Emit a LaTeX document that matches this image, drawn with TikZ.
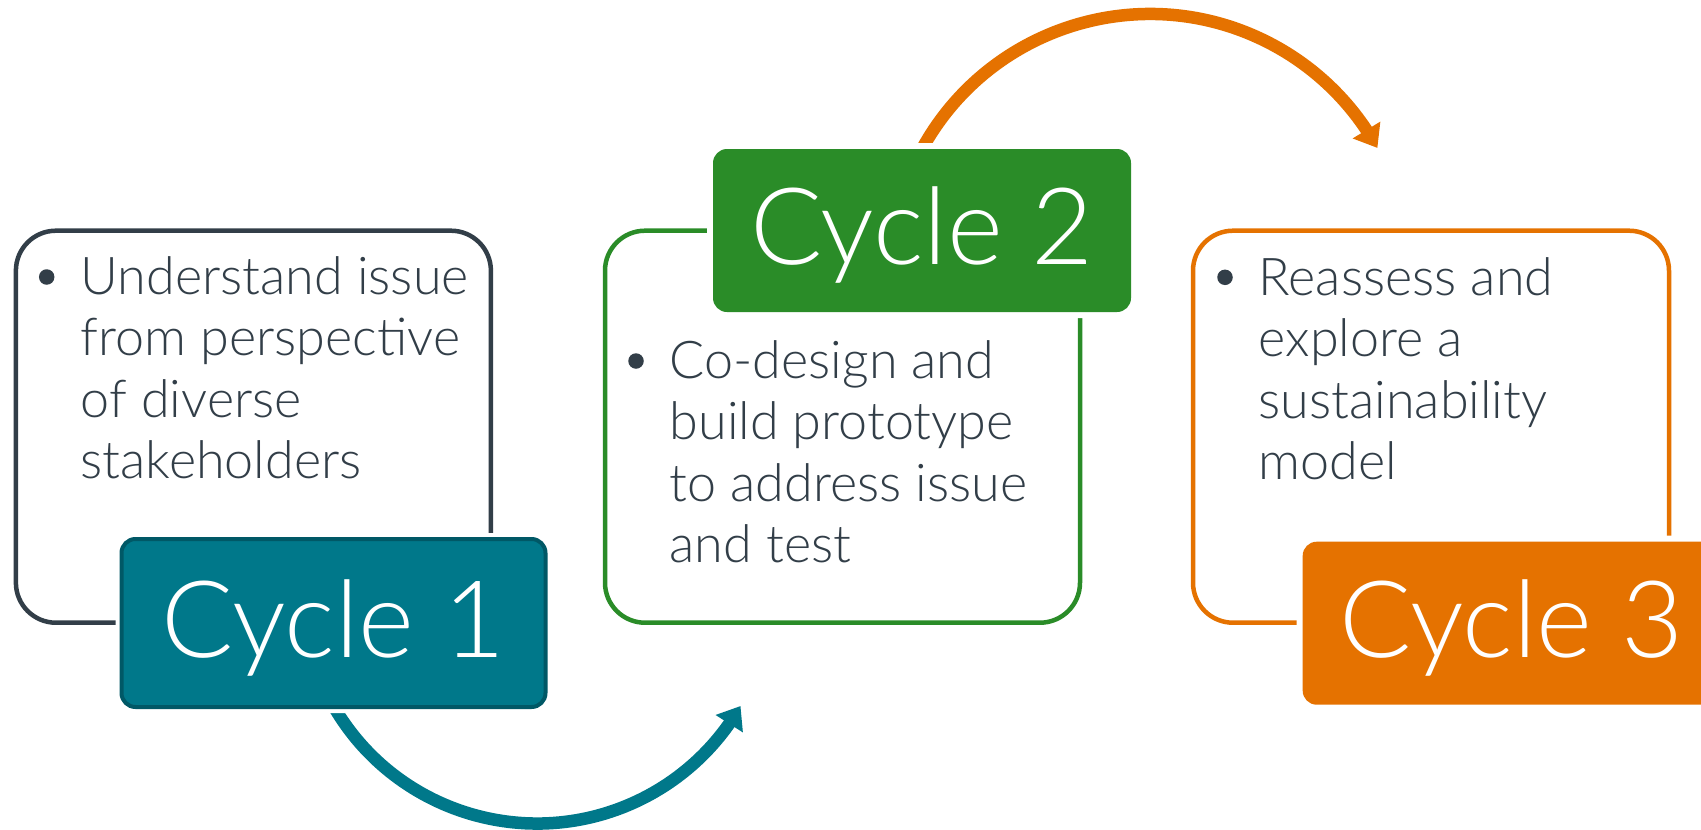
\documentclass[tikz,border=0pt]{standalone}
\usepackage{fontspec}
\setmainfont{Lato}[UprightFont=* Light, Scale=0.93]
\usetikzlibrary{arrows.meta,bending}
\definecolor{slate}{HTML}{323E48}
\definecolor{tealA}{HTML}{00788A}
\definecolor{tealD}{HTML}{005866}
\definecolor{greenA}{HTML}{2A8C28}
\definecolor{orangeA}{HTML}{E57200}
\begin{document}
\begin{tikzpicture}[x=1pt,y=-1pt,
  outbox/.style={rounded corners=40pt, line width=4.5pt, minimum width=475pt,
    minimum height=392pt, inner sep=0pt, outer sep=0pt},
  cycbox/.style={rounded corners=14pt, inner sep=0pt, text=white,
    font=\fontsize{115}{138}\selectfont, text height=82pt, text depth=14pt,
    preaction={draw=white, line width=12pt}},
  bulletdot/.style={circle, fill=slate, minimum size=15.5pt, inner sep=0pt},
  btext/.style={anchor=base west, inner sep=0pt, text=slate,
    font=\fontsize{56}{61.5}\selectfont},
  cyclearrow/.style={line width=12.5pt, -{Triangle[length=21pt,width=31pt]}}]
\useasboundingbox (0,0) rectangle (1701,830);
\clip (0,0) rectangle (1701,830);
\fill[white] (0,0) rectangle (1701,830);

% outline boxes
\node[outbox, draw=slate] (box1) at (253.4,426.7) {};
\node[outbox, draw=greenA] (box2) at (842.5,426.7) {};
\node[outbox, draw=orangeA, minimum width=476pt] (box3) at (1431,426.7) {};

% arc arrows
\coordinate (arc1c) at (537,588.5);
\coordinate (arc2c) at (1150,274);
\draw[cyclearrow, tealA] (arc1c) ++(153:235) arc[start angle=153, end angle=30, radius=235];
\draw[cyclearrow, orangeA] (arc2c) ++(207:260) arc[start angle=207, end angle=331, radius=260];

% cycle label boxes
\node[cycbox, fill=tealA, draw=tealD, line width=4pt, minimum width=424pt,
  minimum height=168pt] (cyc1) at (333.5,623) {Cycle 1};
\node[cycbox, fill=greenA, minimum width=418pt, minimum height=163pt] (cyc2) at (922,230.5) {Cycle 2};
\node[cycbox, fill=orangeA, minimum width=418pt, minimum height=163pt] (cyc3) at (1511.7,623.2) {Cycle 3};

% bullets
\node[bulletdot] (bul1) at (46.7,277) {};
\node[bulletdot] (bul2) at (636,361) {};
\node[bulletdot] (bul3) at (1225,277.3) {};

% bullet texts
\node[btext] (txt1) at (80.5,294) {\parbox[t]{400pt}{\raggedright Understand issue\\from perspective\\of diverse\\stakeholders}};
\node[btext] (txt2) at (669.5,378.3) {\parbox[t]{400pt}{\raggedright Co-design and\\build prototype\\to address issue\\and test}};
\node[btext] (txt3) at (1258.5,295) {\parbox[t]{400pt}{\raggedright Reassess and\\explore a\\sustainability\\model}};
\end{tikzpicture}
\end{document}
